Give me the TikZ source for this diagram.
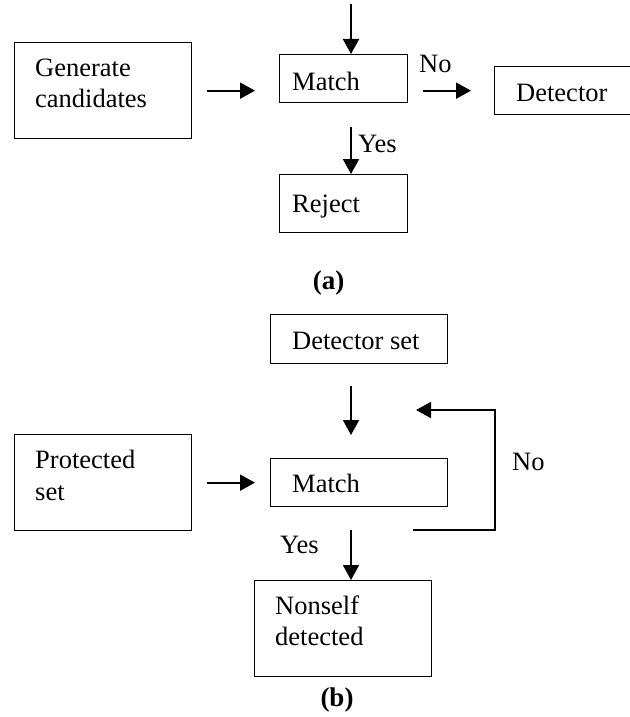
\documentclass[tikz,border=0pt]{standalone}
\usepackage{fontspec}
\setmainfont{Liberation Serif}
\usetikzlibrary{arrows.meta}
\begin{document}
\begin{tikzpicture}[x=1pt,y=-1pt,
  box/.style={draw, line width=1.3pt, inner sep=0pt, anchor=north west},
  txt/.style={inner sep=0pt, anchor=base west, font=\fontsize{26.5}{31}\selectfont},
  captxt/.style={inner sep=0pt, anchor=base, font=\fontsize{27}{31}\selectfont\bfseries},
  arr/.style={line width=2pt, -{Triangle[length=15pt,width=16pt]}},
  fbline/.style={line width=1.4pt}]
\useasboundingbox (0,0) rectangle (629,717);
\fill[white] (0,0) rectangle (629,717);
% ---------- (a) ----------
\node[box, minimum width=177pt, minimum height=96pt] (gen) at (14,42) {};
\node[txt] (gent1) at (35,77) {Generate};
\node[txt] (gent2) at (35,107) {candidates};
\node[box, minimum width=128pt, minimum height=48pt] (m1) at (279,54) {};
\node[txt] (m1t) at (292,90) {Match};
\node[box, minimum width=140pt, minimum height=48pt] (det) at (494,66) {};
\node[txt] (dett) at (516,101) {Detector};
\node[box, minimum width=128pt, minimum height=58pt] (rej) at (279,174) {};
\node[txt] (rejt) at (292,212) {Reject};
\node[txt] (noa) at (419,73) {No};
\node[txt] (yesa) at (358,152) {Yes};
\node[captxt] (capa) at (328.5,289) {(a)};
\coordinate (ax) at (351,0);
\coordinate (topin) at (351,4);
\draw[arr] (topin) -- (topin |- m1.north);
\draw[arr, shorten <=15pt, shorten >=24pt] (gen.east) -- (gen.east -| m1.west);
\draw[arr, shorten <=15pt, shorten >=23pt] (m1.east |- det.west) -- (det.west);
\draw[arr, shorten <=24pt] (ax |- m1.south) -- (ax |- rej.north);
% ---------- (b) ----------
\node[box, minimum width=177pt, minimum height=49pt] (ds) at (270,314) {};
\node[txt] (dst) at (292,349) {Detector set};
\node[box, minimum width=177pt, minimum height=96pt] (prot) at (14,434) {};
\node[txt] (prott1) at (35,468) {Protected};
\node[txt] (prott2) at (35,500) {set};
\node[box, minimum width=177pt, minimum height=48pt] (m2) at (270,458) {};
\node[txt] (m2t) at (292,492) {Match};
\node[box, minimum width=177pt, minimum height=96pt] (ns) at (254,580) {};
\node[txt] (nst1) at (275,614) {Nonself};
\node[txt] (nst2) at (275,645) {detected};
\node[txt] (nob) at (512,470) {No};
\node[txt] (yesb) at (280,553) {Yes};
\node[captxt] (capb) at (337,706) {(b)};
\draw[arr, shorten <=22pt, shorten >=23pt] (ax |- ds.south) -- (ax |- m2.north);
\draw[arr, shorten <=15pt, shorten >=15pt] (prot.east) -- (prot.east -| m2.west);
\draw[arr, shorten <=23pt] (ax |- m2.south) -- (ax |- ns.north);
\coordinate (fbstart) at (413,530);
\coordinate (fbc1) at (495,530);
\coordinate (fbc2) at (495,410);
\coordinate (fbend) at (416,410);
\draw[fbline] (fbstart) -- (fbc1) -- (fbc2);
\draw[arr] ([xshift=0.7pt]fbc2) -- (fbend);
\end{tikzpicture}
\end{document}
